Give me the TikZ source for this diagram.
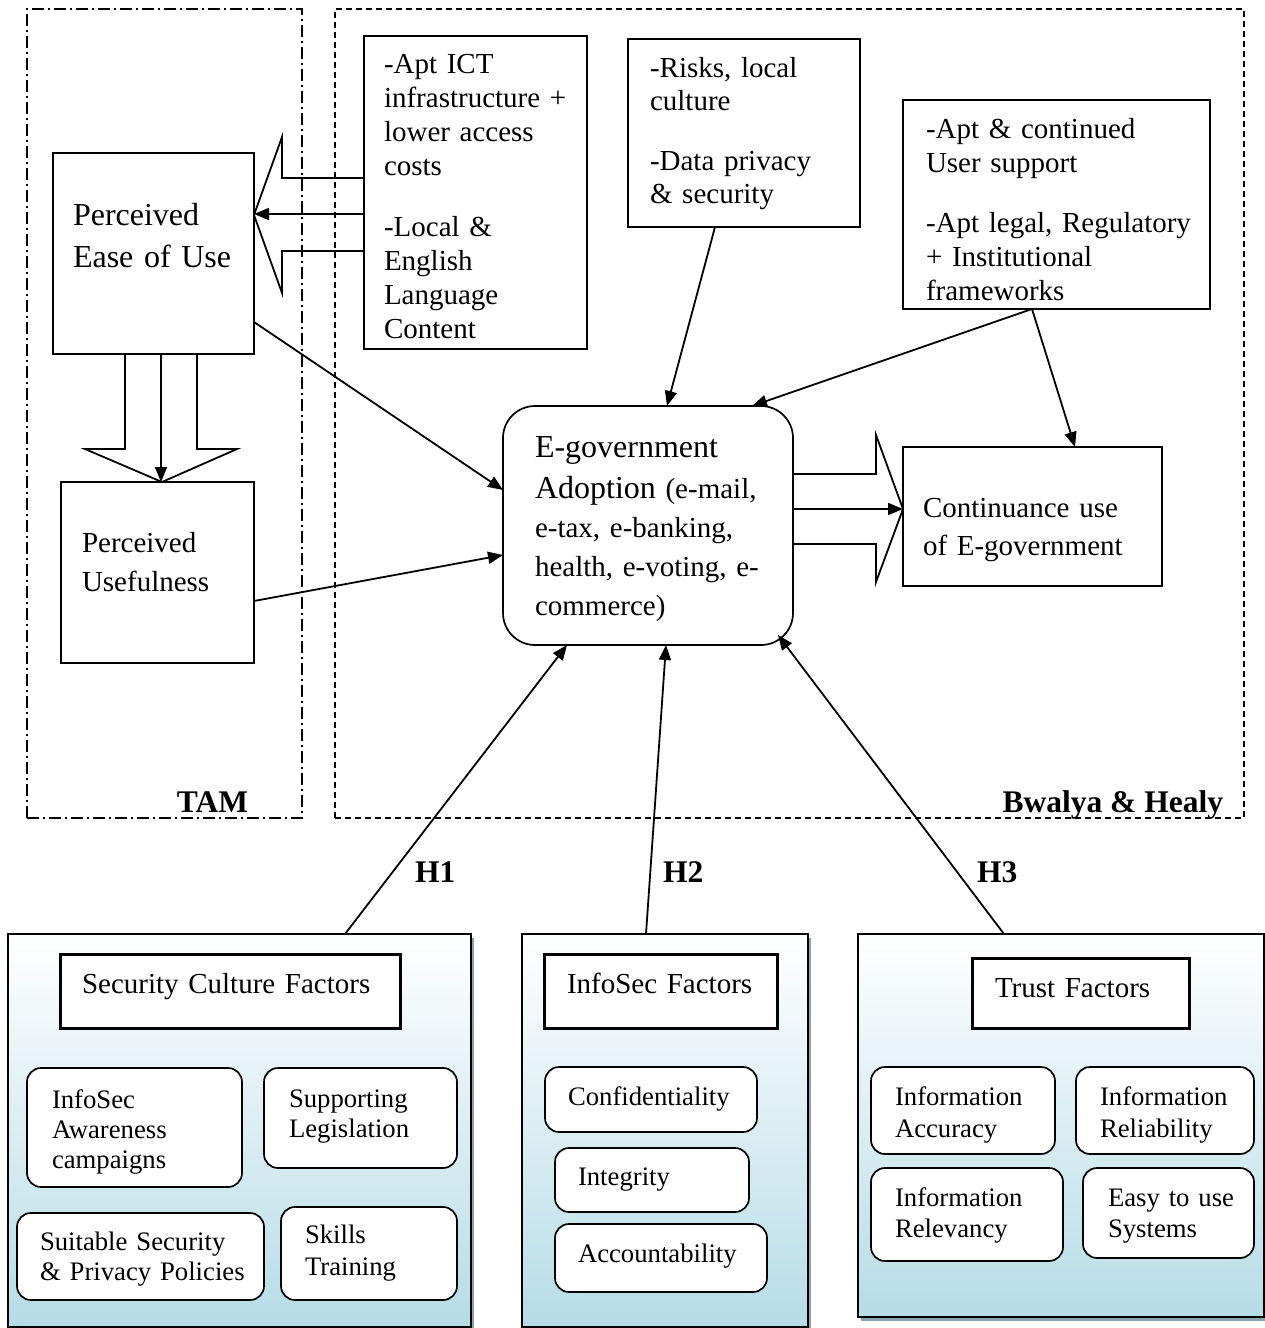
\documentclass[tikz,border=0pt]{standalone}
\usepackage{fontspec}
\setmainfont{Liberation Serif}
\usetikzlibrary{arrows.meta,calc,shadows}
\definecolor{panelblue}{RGB}{182,220,231}
\definecolor{shadowgray}{RGB}{140,163,173}
\tikzset{
  every node/.style={inner sep=0pt, outer sep=0pt},
  grouptam/.style={draw, line width=1.3pt, dash pattern=on 12pt off 4pt on 2pt off 4pt, anchor=north west},
  groupbh/.style={draw, line width=1.3pt, dash pattern=on 6pt off 4pt, anchor=north west},
  plainbox/.style={draw, line width=1.7pt, fill=white, anchor=north west},
  biground/.style={plainbox, rounded corners=32pt},
  panel/.style={draw, line width=2.2pt, anchor=north west, top color=white, bottom color=panelblue,
    drop shadow={shadow xshift=3pt, shadow yshift=-4pt, fill=shadowgray, opacity=1}},
  titlebox/.style={draw, line width=3pt, fill=white, anchor=north west},
  itembox/.style={draw, line width=1.7pt, fill=white, rounded corners=14pt, anchor=north west},
  lbl/.style={anchor=base west, align=left, text width=#1},
  lbl/.default=330pt,
  bigtxt/.style={font=\fontsize{32}{42}\selectfont},
  midtxt/.style={font=\fontsize{29}{39}\selectfont},
  toptxt/.style={font=\fontsize{29}{34}\selectfont},
  smalltxt/.style={font=\fontsize{26.7}{30.5}\selectfont},
  boldtxt/.style={font=\fontsize{31.5}{36}\selectfont\bfseries},
  conn/.style={line width=1.8pt, -{Triangle[length=15pt,width=12pt]}},
  hollow/.style={line width=1.8pt, line join=miter}
}
\begin{document}
\begin{tikzpicture}[x=1pt, y=-1pt]
\useasboundingbox (0,0) rectangle (1265,1328);

% model frames
\node[grouptam, minimum width=275pt, minimum height=809pt] (tam) at (27,9) {};
\node[groupbh, minimum width=909pt, minimum height=809pt] (bh) at (335,9) {};
\node[boldtxt, anchor=base east] (tamlbl) at (248,812) {TAM};
\node[boldtxt, anchor=base east] (bhlbl) at (1223,812) {Bwalya \& Healy};

% TAM constructs
\node[plainbox, minimum width=201pt, minimum height=201pt] (peou) at (53,153) {};
\node[plainbox, minimum width=193pt, minimum height=181pt] (pu) at (61,482) {};
\node[lbl, bigtxt] (peoutxt) at (73,225) {Perceived\\Ease of Use};
\node[lbl, midtxt] (putxt) at (82,552) {Perceived\\Usefulness};

% contextual factor boxes
\node[plainbox, minimum width=223pt, minimum height=313pt] (ict) at (364,36) {};
\node[lbl, toptxt] (icttxt) at (384,73) {-Apt ICT\\infrastructure +\\lower access\\costs\\[27pt]-Local \&\\English\\Language\\Content};
\node[plainbox, minimum width=232pt, minimum height=188pt] (risk) at (628,39) {};
\node[lbl, font=\fontsize{29}{33}\selectfont] (risktxt) at (650,77) {-Risks, local\\culture\\[27pt]-Data privacy\\\& security};
\node[plainbox, minimum width=307pt, minimum height=209pt] (legal) at (903,100) {};
\node[lbl, toptxt] (legaltxt) at (926,138) {-Apt \& continued\\User support\\[26pt]-Apt legal, Regulatory\\+ Institutional\\frameworks};

% adoption and continuance
\node[biground, minimum width=290pt, minimum height=239pt] (egov) at (503,406) {};
\node[lbl, midtxt] (egovtxt) at (535,457) {{\fontsize{32}{39}\selectfont E-government}\\[2pt]{\fontsize{32}{39}\selectfont Adoption} (e-mail,\\e-tax, e-banking,\\health, e-voting, e-\\commerce)};
\node[plainbox, minimum width=259pt, minimum height=139pt] (cont) at (903,447) {};
\node[lbl, font=\fontsize{29}{38}\selectfont] (conttxt) at (923,517) {Continuance use\\of E-government};

% hollow block arrows
\draw[hollow] (364,178) -- (282,178) -- (282,137) -- (254,215) -- (282,293) -- (282,251) -- (364,251);
\draw[hollow] (125,354) -- (125,449) -- (85,449) -- (162,482) -- (237,449) -- (197,449) -- (197,354);
\draw[hollow] (793,474) -- (876,474) -- (876,435) -- (903,509) -- (876,582) -- (876,544) -- (793,544);
\draw[conn] ($(ict.north west)+(0,178)$) -- ($(peou.north east)+(0,61)$);
\draw[conn] ($(peou.south west)+(108,0)$) -- ($(pu.north west)+(100,0)$);
\draw[conn] ($(egov.north east)+(0,103)$) -- ($(cont.north west)+(0,62)$);

% factor panels
\node[panel, minimum width=463pt, minimum height=393pt] (sec) at (8,934) {};
\node[panel, minimum width=286pt, minimum height=393pt] (infosec) at (522,934) {};
\node[panel, minimum width=406pt, minimum height=383pt] (trust) at (858,934) {};

\node[titlebox, minimum width=340pt, minimum height=74pt] (sectitle) at (60,954) {};
\node[lbl, midtxt] (sectitletxt) at (82,993) {Security Culture Factors};
\node[itembox, minimum width=215pt, minimum height=119pt] (aware) at (27,1068) {};
\node[lbl, smalltxt, font=\fontsize{26.7}{30}\selectfont] (awaretxt) at (52,1108) {InfoSec\\Awareness\\campaigns};
\node[itembox, minimum width=193pt, minimum height=100pt] (legis) at (264,1068) {};
\node[lbl, font=\fontsize{26.7}{30}\selectfont] (legistxt) at (289,1107) {Supporting\\Legislation};
\node[itembox, minimum width=247pt, minimum height=87pt] (policy) at (17,1213) {};
\node[lbl, font=\fontsize{26.7}{30}\selectfont] (policytxt) at (40,1250) {Suitable Security\\\& Privacy Policies};
\node[itembox, minimum width=176pt, minimum height=93pt] (skills) at (281,1207) {};
\node[lbl, font=\fontsize{26.7}{32}\selectfont] (skillstxt) at (305,1243) {Skills\\Training};

\node[titlebox, minimum width=233pt, minimum height=74pt] (infotitle) at (544,954) {};
\node[lbl, midtxt] (infotitletxt) at (567,993) {InfoSec Factors};
\node[itembox, minimum width=212pt, minimum height=65pt] (conf) at (545,1067) {};
\node[lbl, smalltxt] (conftxt) at (568,1105) {Confidentiality};
\node[itembox, minimum width=194pt, minimum height=64pt] (integ) at (555,1148) {};
\node[lbl, smalltxt] (integtxt) at (578,1185) {Integrity};
\node[itembox, minimum width=212pt, minimum height=68pt] (acct) at (555,1224) {};
\node[lbl, smalltxt] (accttxt) at (578,1262) {Accountability};

\node[titlebox, minimum width=217pt, minimum height=70pt] (trusttitle) at (972,958) {};
\node[lbl, midtxt] (trusttitletxt) at (995,997) {Trust Factors};
\node[itembox, minimum width=184pt, minimum height=87pt] (accur) at (871,1067) {};
\node[lbl, font=\fontsize{26.7}{32}\selectfont] (accurtxt) at (895,1105) {Information\\Accuracy};
\node[itembox, minimum width=178pt, minimum height=87pt] (relia) at (1076,1067) {};
\node[lbl, font=\fontsize{26.7}{32}\selectfont] (reliatxt) at (1100,1105) {Information\\Reliability};
\node[itembox, minimum width=192pt, minimum height=93pt] (relev) at (871,1168) {};
\node[lbl, font=\fontsize{26.7}{31}\selectfont] (relevtxt) at (895,1206) {Information\\Relevancy};
\node[itembox, minimum width=171pt, minimum height=90pt] (easy) at (1083,1168) {};
\node[lbl, font=\fontsize{26.7}{31}\selectfont] (easytxt) at (1108,1206) {Easy to use\\Systems};

% influences on adoption
\draw[conn] ($(peou.north east)+(0,169)$) -- ($(egov.north west)+(0,84)$);
\draw[conn] ($(pu.north east)+(0,119)$) -- ($(egov.north west)+(0,149)$);
\draw[conn] ($(risk.south west)+(87,0)$) -- ($(egov.north west)+(164,0)$);
\draw[conn] ($(legal.south west)+(129,0)$) -- ($(egov.north west)+(249,0)$);
\draw[conn] ($(legal.south west)+(129,0)$) -- ($(cont.north west)+(172,0)$);

% hypotheses
\draw[conn] ($(sec.north west)+(337,0)$) -- ($(egov.south west)+(64,0)$);
\draw[conn] ($(infosec.north west)+(124,0)$) -- ($(egov.south west)+(163,0)$);
\draw[conn] ($(trust.north west)+(146,0)$) -- ($(egov.south east)+(-15,-10)$);
\node[boldtxt, anchor=base west] (h1) at (415,882) {H1};
\node[boldtxt, anchor=base west] (h2) at (663,882) {H2};
\node[boldtxt, anchor=base west] (h3) at (977,882) {H3};
\end{tikzpicture}
\end{document}
